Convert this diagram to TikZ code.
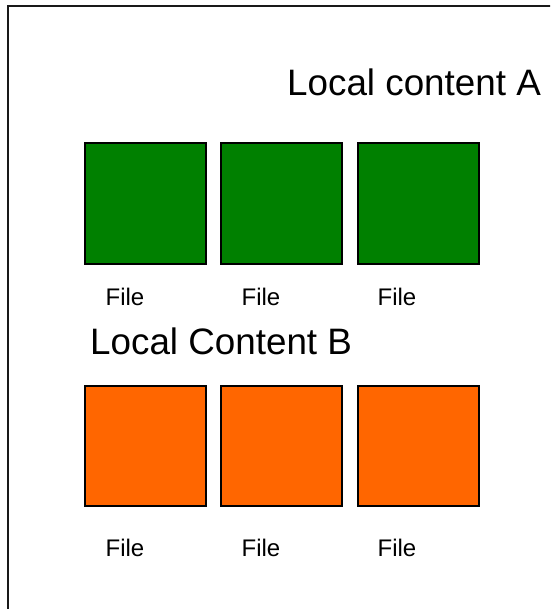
\documentclass[tikz,border=0pt]{standalone}
\usepackage{fontspec}
\setmainfont{Liberation Sans}
\definecolor{fgreen}{HTML}{008000}
\definecolor{forange}{HTML}{FF6600}
\begin{document}
\begin{tikzpicture}[x=1pt,y=-1pt,
  filebox/.style={draw=black,line width=2pt,minimum width=121pt,minimum height=120pt,inner sep=0pt,anchor=north west},
  greenbox/.style={filebox,fill=fgreen},
  orangebox/.style={filebox,fill=forange},
  filelabel/.style={anchor=base,inner sep=0pt,font=\fontsize{24}{28}\selectfont},
  heading/.style={anchor=base west,inner sep=0pt,font=\fontsize{36.8}{42}\selectfont}]
\useasboundingbox (0,0) rectangle (550,609);
\begin{scope}
\clip (0,0) rectangle (550,609);
\draw[line width=2.5pt,black!90] (8,620) -- (8,6) -- (560,6);
\end{scope}
\node[heading] (ha) at (287,96) {Local content A};
\node[greenbox] (a1) at (83.5,142.5) {};
\node[greenbox] (a2) at (220,142.5) {};
\node[greenbox] (a3) at (356.5,142.5) {};
\node[filelabel] (fa1) at (125,305) {File};
\node[filelabel] (fa2) at (261,305) {File};
\node[filelabel] (fa3) at (397,305) {File};
\node[heading] (hb) at (90,354) {Local Content B};
\node[orangebox] (b1) at (83.5,384.5) {};
\node[orangebox] (b2) at (220,384.5) {};
\node[orangebox] (b3) at (356.5,384.5) {};
\node[filelabel] (fb1) at (125,556) {File};
\node[filelabel] (fb2) at (261,556) {File};
\node[filelabel] (fb3) at (397,556) {File};
\end{tikzpicture}
\end{document}
